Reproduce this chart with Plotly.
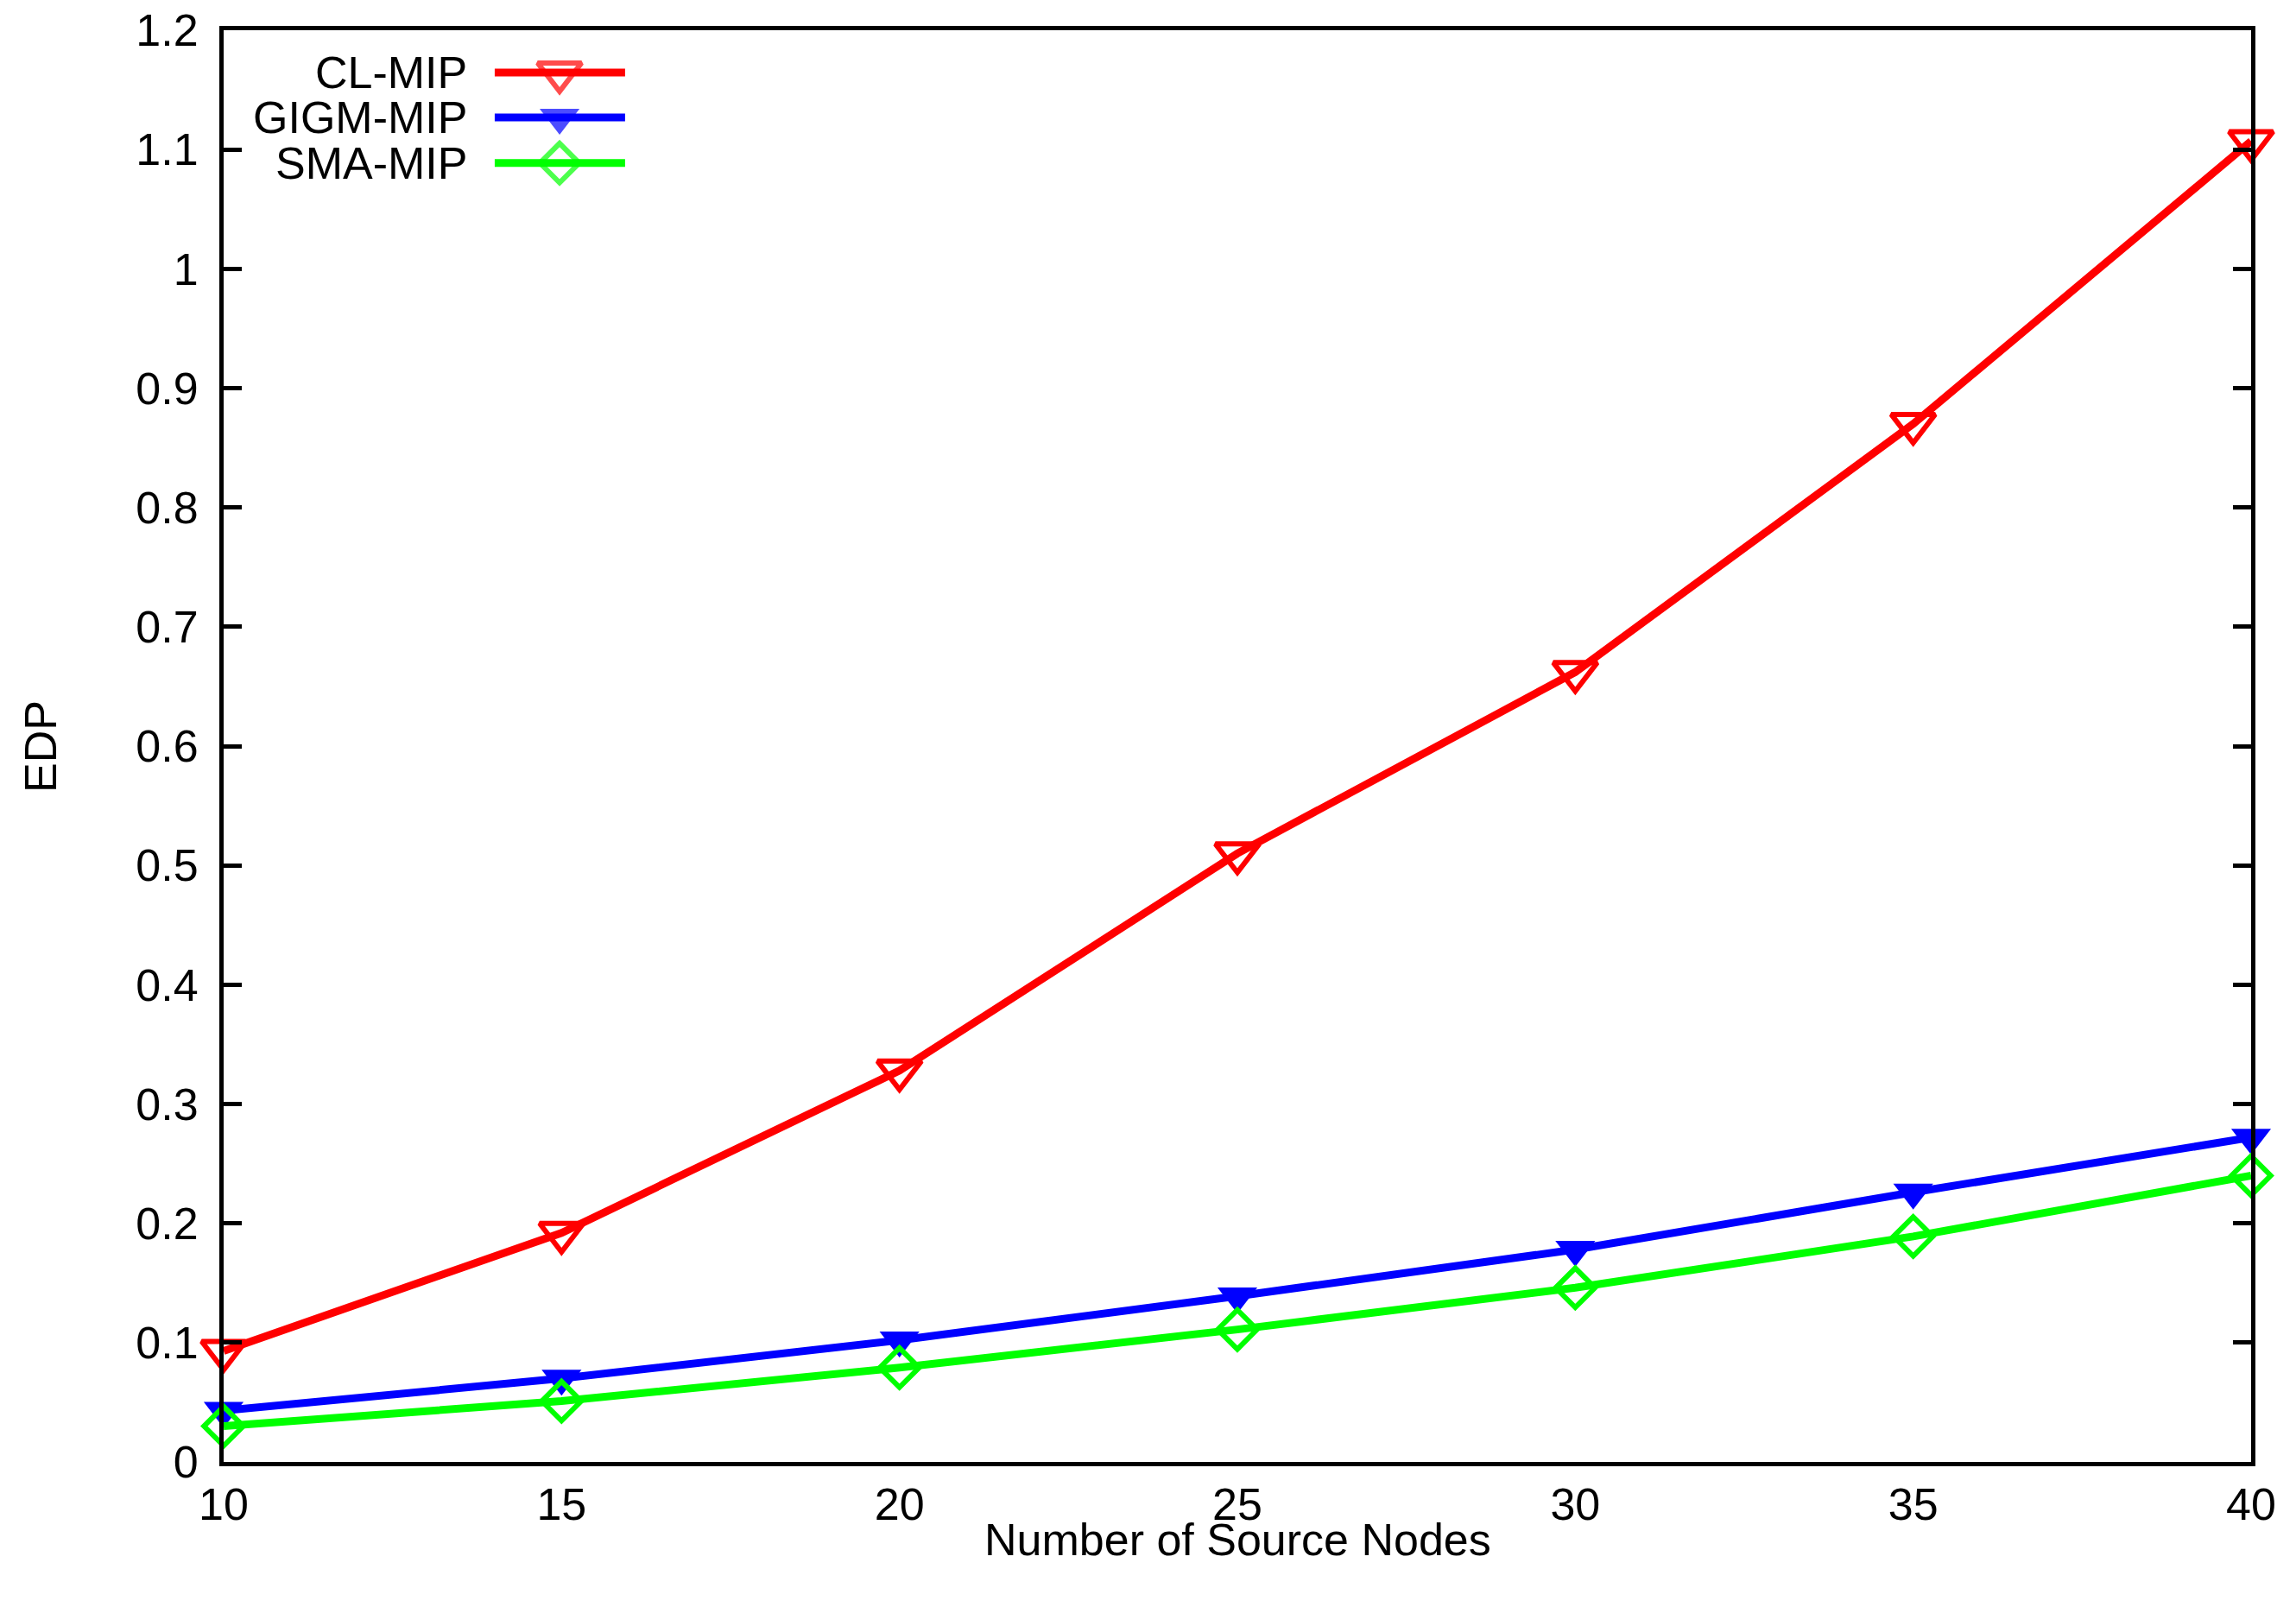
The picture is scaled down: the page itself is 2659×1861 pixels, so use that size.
import plotly.graph_objects as go

# ---- data ----
source_nodes = [10, 15, 20, 25, 30, 35, 40]
cl_mip = [0.093, 0.192, 0.328, 0.510, 0.662, 0.870, 1.107]
gigm_mip = [0.043, 0.070, 0.102, 0.139, 0.178, 0.226, 0.272]
sma_mip = [0.030, 0.051, 0.079, 0.111, 0.146, 0.189, 0.240]
series_names = ["CL-MIP", "GIGM-MIP", "SMA-MIP"]
x_ticks = [10, 15, 20, 25, 30, 35, 40]
y_ticks = [0, 0.1, 0.2, 0.3, 0.4, 0.5, 0.6, 0.7, 0.8, 0.9, 1, 1.1, 1.2]
y_tick_text = ["0", "0.1", "0.2", "0.3", "0.4", "0.5", "0.6", "0.7", "0.8", "0.9", "1", "1.1", "1.2"]

FONT = "Liberation Sans, Arial, Helvetica, sans-serif"
FS = 52
styles = [
    dict(color="#FF0000", symbol="triangle-down-open", size=44, lw=6),
    dict(color="#0000FF", symbol="triangle-down", size=40, lw=0),
    dict(color="#00FF00", symbol="diamond-open", size=35, lw=6),
]

fig = go.Figure()
for name, ys, st in zip(series_names, [cl_mip, gigm_mip, sma_mip], styles):
    fig.add_trace(go.Scatter(
        x=source_nodes, y=ys, name=name, mode="lines+markers",
        line=dict(color=st["color"], width=9),
        marker=dict(symbol=st["symbol"], size=st["size"], color=st["color"],
                    line=dict(color=st["color"], width=st["lw"])),
        cliponaxis=False, showlegend=False,
    ))

# ---- custom legend (text on the left, sample on the right) ----
leg_rows = [0.9705, 0.9391, 0.9072]
leg_text_x = 0.121
leg_x0, leg_xm, leg_x1 = 0.1337, 0.1657, 0.198
for name, st, ry in zip(series_names, styles, leg_rows):
    fig.add_trace(go.Scatter(
        x=[leg_x0, leg_xm, leg_x1], y=[ry, ry, ry], mode="lines+markers",
        xaxis="x2", yaxis="y2",
        line=dict(color=st["color"], width=9),
        marker=dict(symbol=st["symbol"], size=[0, st["size"], 0], color=st["color"],
                    line=dict(color=st["color"], width=st["lw"])),
        cliponaxis=False, showlegend=False, hoverinfo="skip",
    ))
    fig.add_annotation(x=leg_text_x, y=ry, xref="paper", yref="paper",
                       text=name, showarrow=False, xanchor="right", yanchor="middle",
                       font=dict(family=FONT, size=FS, color="black"))

# axis titles
fig.add_annotation(x=0.5, y=-0.0545, xref="paper", yref="paper",
                   text="Number of Source Nodes", showarrow=False,
                   xanchor="center", yanchor="middle",
                   font=dict(family=FONT, size=FS, color="black"))
fig.add_annotation(x=-0.0903, y=0.5, xref="paper", yref="paper",
                   text="EDP", showarrow=False, textangle=-90,
                   xanchor="center", yanchor="middle",
                   font=dict(family=FONT, size=FS, color="black"))

fig.update_layout(
    width=2659, height=1861,
    margin=dict(l=259, r=52, t=35, b=168),
    paper_bgcolor="white", plot_bgcolor="white",
    font=dict(family=FONT, size=FS, color="black"),
    showlegend=False,
    xaxis=dict(range=[10, 40], tickvals=x_ticks, ticks="", showgrid=False,
               zeroline=False, showline=True, linecolor="black", linewidth=5,
               mirror=True, ticklabelstandoff=0, ticklabeloverflow="allow",
               automargin=False,
               tickfont=dict(family=FONT, size=FS, color="black")),
    yaxis=dict(range=[0, 1.2], tickvals=y_ticks, ticktext=y_tick_text,
               ticks="inside", ticklen=21, tickwidth=5, tickcolor="black",
               showgrid=False, zeroline=False, showline=True, linecolor="black",
               linewidth=5, mirror="allticks", ticklabelstandoff=14,
               ticklabeloverflow="allow", automargin=False,
               tickfont=dict(family=FONT, size=FS, color="black")),
    xaxis2=dict(range=[0, 1], overlaying="x", visible=False, domain=[0, 1],
                automargin=False),
    yaxis2=dict(range=[0, 1], overlaying="y", visible=False, domain=[0, 1],
                automargin=False),
)

fig.write_html("out.html", config={"displayModeBar": False},
               post_script="document.body.style.margin='0';document.body.style.overflow='hidden';")
